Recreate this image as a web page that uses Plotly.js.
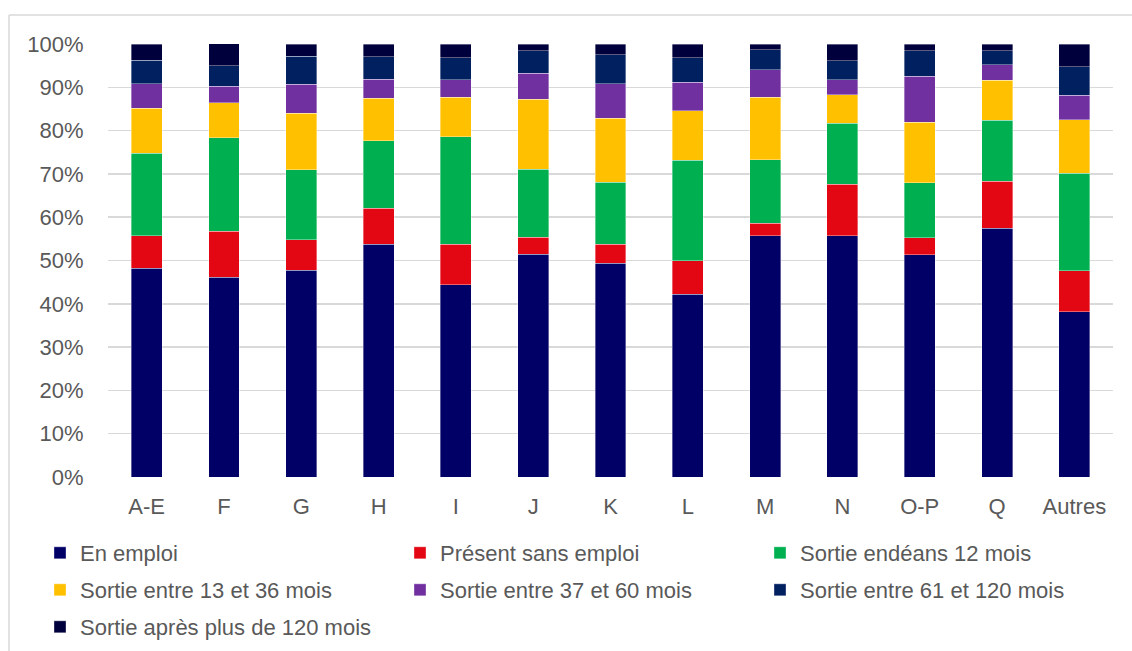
<!DOCTYPE html>
<html>
<head>
<meta charset="utf-8">
<script src="https://cdn.plot.ly/plotly-3.0.1.min.js"></script>
<style>html,body{margin:0;padding:0;background:#fff;}#chart{width:1132px;height:651px;}</style>
</head>
<body>
<div id="chart"></div>
<script>
const categories = ["A-E","F","G","H","I","J","K","L","M","N","O-P","Q","Autres"];
const seriesNames = ["En emploi","Présent sans emploi","Sortie endéans 12 mois","Sortie entre 13 et 36 mois","Sortie entre 37 et 60 mois","Sortie entre 61 et 120 mois","Sortie après plus de 120 mois"];
const enEmploi      = [48.2, 46.1, 47.8, 53.8, 44.4, 51.5, 49.4, 42.2, 55.7, 55.7, 51.3, 57.5, 38.2];
const presentSans   = [ 7.5, 10.7,  7.0,  8.3,  9.4,  3.9,  4.3,  7.8,  2.9, 11.9,  3.9, 10.8,  9.4];
const sortie12      = [19.1, 21.5, 16.2, 15.5, 24.8, 15.7, 14.4, 23.1, 14.7, 14.1, 12.7, 14.1, 22.6];
const sortie13_36   = [10.4,  8.1, 13.0,  9.9,  9.1, 16.1, 14.7, 11.5, 14.4,  6.6, 14.0,  9.2, 12.3];
const sortie37_60   = [ 5.6,  3.8,  6.7,  4.4,  4.0,  6.1,  8.0,  6.6,  6.4,  3.5, 10.7,  3.6,  5.7];
const sortie61_120  = [ 5.5,  4.8,  6.5,  5.2,  5.1,  5.1,  6.7,  5.6,  4.6,  4.3,  5.8,  3.2,  6.5];
const sortie120plus = [ 3.7,  5.2,  2.7,  2.9,  3.2,  1.6,  2.5,  3.2,  1.3,  3.9,  1.6,  1.6,  5.3];
const yTickValues = [0,10,20,30,40,50,60,70,80,90,100];
const yTickLabels = ["0%","10%","20%","30%","40%","50%","60%","70%","80%","90%","100%"];

const allSeries = [enEmploi, presentSans, sortie12, sortie13_36, sortie37_60, sortie61_120, sortie120plus];
const colors = ["#000066","#E30613","#00AF50","#FFC000","#7030A0","#002060","#00003C"];

const fontFam = "Liberation Sans, Arial, sans-serif";
const txtColor = "#595959";

// legend slot for each series: [left px, row centre px]
const legendSlots = [[40,553],[400,553],[760,553],[40,590],[400,590],[760,590],[40,627]];
const legendKeys = allSeries.map((_, i) => i === 0 ? "legend" : "legend" + (i + 1));

const traces = allSeries.map((vals, i) => ({
  type: "bar",
  name: seriesNames[i],
  x: categories,
  y: vals,
  marker: {color: colors[i], line: {color: "rgba(255,255,255,0.45)", width: 0.8}},
  legend: legendKeys[i],
  hoverinfo: "name+y"
}));

function legendBox(slot) {
  return {
    orientation: "h",
    xref: "container", yref: "container",
    x: slot[0]/1132, xanchor: "left",
    y: 1 - slot[1]/651, yanchor: "middle",
    font: {family: fontFam, size: 22, color: txtColor},
    itemwidth: 30,
    bgcolor: "rgba(0,0,0,0)"
  };
}

const layout = {
  width: 1132, height: 651,
  barmode: "stack",
  bargap: 0.6,
  paper_bgcolor: "#fff", plot_bgcolor: "#fff",
  margin: {l: 108, r: 19, t: 44, b: 174},
  font: {family: fontFam, size: 22, color: txtColor},
  xaxis: {
    type: "category",
    tickfont: {family: fontFam, size: 22, color: txtColor},
    ticks: "outside", ticklen: 10, tickcolor: "rgba(0,0,0,0)",
    showline: false, showgrid: false, zeroline: false,
    fixedrange: true
  },
  yaxis: {
    range: [0, 100],
    tickvals: yTickValues, ticktext: yTickLabels,
    tickfont: {family: fontFam, size: 22, color: txtColor},
    ticks: "outside", ticklen: 19, tickcolor: "rgba(0,0,0,0)",
    showgrid: true, gridcolor: "#d9d9d9", gridwidth: 1.5,
    zeroline: false, showline: false,
    fixedrange: true
  },
  showlegend: true,
  shapes: [
    {type: "line", xref: "paper", yref: "paper", x0: (9-108)/1005, x1: (1140-108)/1005, y0: (477.3-15)/433.3, y1: (477.3-15)/433.3, line: {color: "#d9d9d9", width: 1.5}},
    {type: "line", xref: "paper", yref: "paper", x0: (9-108)/1005, x1: (9-108)/1005, y0: (477.3-15)/433.3, y1: (477.3-660)/433.3, line: {color: "#d9d9d9", width: 1.5}}
  ]
};
legendKeys.forEach((k, i) => { layout[k] = legendBox(legendSlots[i]); });

Plotly.newPlot("chart", traces, layout, {displayModeBar: false, staticPlot: true});
</script>
</body>
</html>
